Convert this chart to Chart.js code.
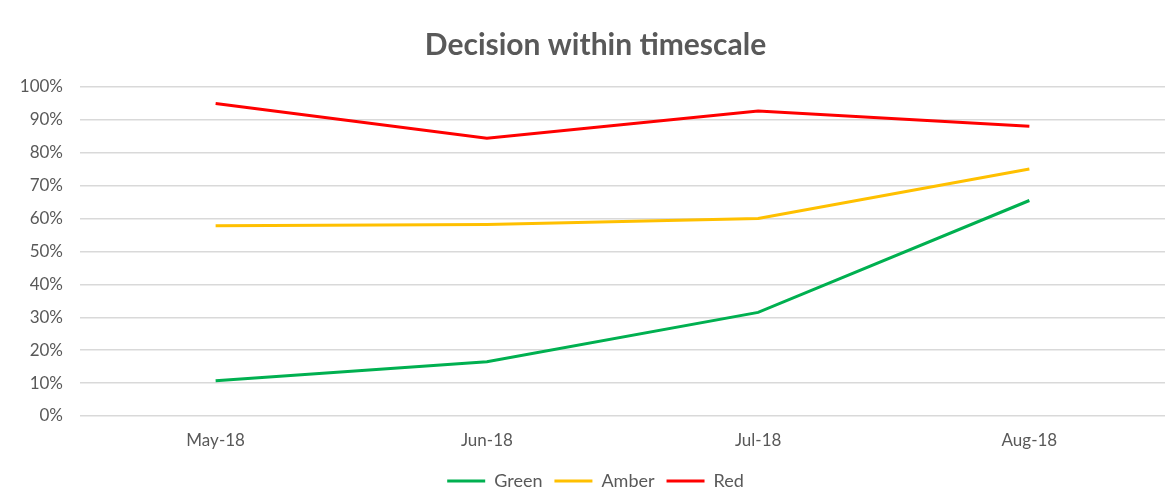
<!DOCTYPE html>
<html>
<head>
<meta charset="utf-8">
<script src="https://cdn.jsdelivr.net/npm/chart.js@4/dist/chart.umd.min.js"></script>
<style>
html,body{margin:0;padding:0;background:#fff}
#wrap{width:1171px;height:504px}
</style>
</head>
<body>
<div id="wrap"><canvas id="chart"></canvas></div>
<script>
const months=["May-18","Jun-18","Jul-18","Aug-18"];
const green=[10.7,16.5,31.5,65.5];
const amber=[57.8,58.2,60,75.1];
const red=[95,84.4,92.7,88.1];
const yTicks=[0,10,20,30,40,50,60,70,80,90,100];

const TXT="#595959";
Chart.defaults.font.family="Lato, 'Open Sans', sans-serif";
Chart.defaults.color=TXT;

const line=(label,data,color)=>({
  label,data,
  borderColor:color,backgroundColor:color,
  borderWidth:3,pointRadius:0,tension:0,fill:false
});

// original has title and legend a bit right of canvas centre
const nudge={
  id:"nudge",
  afterLayout(c){
    [c.titleBlock,c.legend].forEach(b=>{if(b){b.left+=13;b.right+=13}});
  }
};

new Chart(chart,{
  type:"line",
  data:{
    labels:months,
    datasets:[
      line("Green",green,"#00b050"),
      line("Amber",amber,"#ffc000"),
      line("Red",red,"#ff0000")
    ]
  },
  plugins:[nudge],
  options:{
    responsive:true,
    maintainAspectRatio:false,
    animation:false,
    layout:{padding:{left:0,right:6,top:0,bottom:4}},
    plugins:{
      title:{
        display:true,text:"Decision within timescale",color:TXT,
        font:{size:30,weight:"bold"},padding:{top:27,bottom:24}
      },
      legend:{
        position:"bottom",
        labels:{
          color:TXT,font:{size:18},boxWidth:38,boxHeight:3,padding:12,
          generateLabels:c=>Chart.defaults.plugins.legend.labels.generateLabels(c).map(l=>({...l,lineWidth:0}))
        }
      },
      tooltip:{enabled:false}
    },
    scales:{
      x:{
        offset:true,
        grid:{display:false,drawTicks:false},
        border:{display:false},
        ticks:{font:{size:17},color:TXT,padding:14},
        afterFit:s=>{s.height=44}
      },
      y:{
        min:0,max:100,
        afterBuildTicks:s=>{s.ticks=yTicks.map(v=>({value:v}))},
        grid:{color:"#d9d9d9",lineWidth:1.5,drawTicks:false},
        border:{display:false},
        ticks:{font:{size:17},color:TXT,padding:17,callback:v=>v+"%"},
        afterFit:s=>{s.width=80}
      }
    }
  }
});
</script>
</body>
</html>
